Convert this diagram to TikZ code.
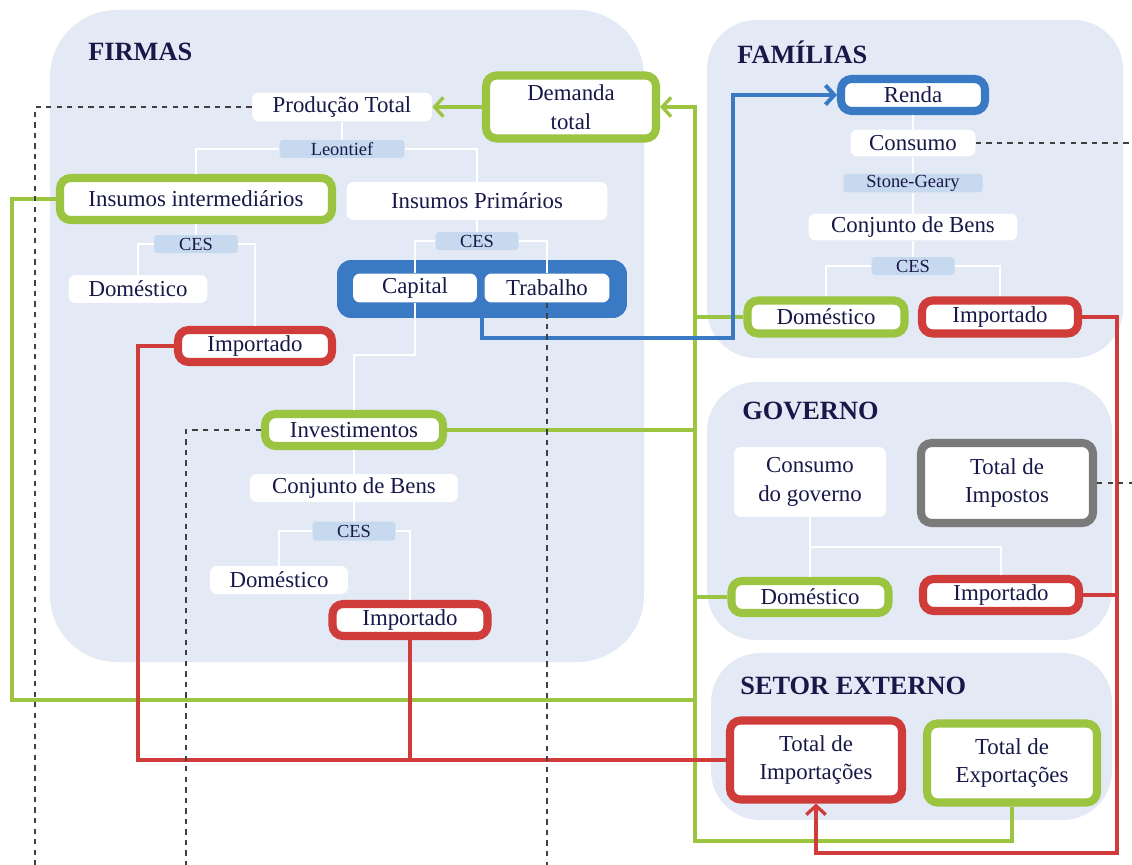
\documentclass[tikz,border=0pt]{standalone}
\usepackage{fontspec}
\setmainfont{Liberation Serif}
\usepackage{tikz}
\usetikzlibrary{arrows.meta}
\definecolor{verde}{RGB}{155,196,64}
\definecolor{vermelho}{RGB}{207,60,58}
\definecolor{azul}{RGB}{58,122,196}
\definecolor{cinza}{RGB}{122,122,122}
\definecolor{painel}{RGB}{227,234,245}
\definecolor{rotulo}{RGB}{198,217,238}
\definecolor{texto}{RGB}{24,24,72}

\begin{document}
\begin{tikzpicture}[x=0.02cm, y=-0.02cm,
  painelbox/.style={fill=painel, rounded corners=#1},
  titulo/.style={font=\fontsize{15}{17}\selectfont\bfseries, text=texto,
                 anchor=west, inner sep=0pt},
  caixa/.style={fill=white, rounded corners=4pt, inner sep=1pt, text=texto,
                align=center, font=\fontsize{13}{16.5}\selectfont},
  quadro/.style={caixa, draw=#1, line width=4.6pt, rounded corners=6pt},
  rot/.style={fill=rotulo, rounded corners=2pt, inner sep=0pt, text=texto,
              font=\fontsize{10.5}{12}\selectfont},
  arvore/.style={white, line width=1.2pt},
  fluxo/.style={#1, line width=1.9pt},
  seta/.style={-{Straight Barb[length=5pt,width=11pt]}},
  tracejado/.style={dashed, line width=0.6pt, black!75},
]
\useasboundingbox (0,0) rectangle (1132,865);

% ---- Panels ----------------------------------------------------------------
\fill[painelbox=38pt] (50,10) rectangle (644,662);
\fill[painelbox=28pt] (707,20) rectangle (1123,358);
\fill[painelbox=28pt] (707,382) rectangle (1112,640);
\fill[painelbox=28pt] (711,653) rectangle (1112,820);

\node[titulo] (tFirmas)  at (88,52)   {FIRMAS};
\node[titulo] (tFamilia) at (737,52)  {FAMÍLIAS};
\node[titulo] (tGoverno) at (742,411) {GOVERNO};
\node[titulo] (tSetor)   at (740,686) {SETOR EXTERNO};

% ---- Firmas ----------------------------------------------------------------
\node[caixa, minimum width=3.6cm, minimum height=0.58cm] (prod) at (342,107) {Produção Total};
\node[rot, minimum width=2.5cm, minimum height=0.36cm] (leon) at (342,149) {Leontief};
\node[quadro=verde, minimum width=3.4cm, minimum height=1.26cm] (dem) at (571,107) {Demanda\\total};
\node[quadro=verde, minimum width=5.44cm, minimum height=0.84cm] (insint) at (196,199) {Insumos intermediários};
\node[caixa, minimum width=5.22cm, minimum height=0.76cm] (insprim) at (477,201) {Insumos Primários};
\node[rot, minimum width=1.68cm, minimum height=0.36cm] (ces1) at (196,244) {CES};
\node[caixa, minimum width=2.78cm, minimum height=0.56cm] (dom1) at (138,289) {Doméstico};
\node[quadro=vermelho, minimum width=3.08cm, minimum height=0.64cm] (imp1) at (255,346) {Importado};
\node[rot, minimum width=1.66cm, minimum height=0.36cm] (ces2) at (477,241) {CES};

\node[fill=azul, rounded corners=8pt, minimum width=5.8cm, minimum height=1.16cm] (fator) at (482,289) {};
\node[caixa, minimum width=2.48cm, minimum height=0.58cm] (cap) at (415,288) {Capital};
\node[caixa, minimum width=2.5cm, minimum height=0.58cm] (trab) at (547,288) {Trabalho};

\node[quadro=verde, minimum width=3.56cm, minimum height=0.64cm] (inv) at (354,430) {Investimentos};
\node[caixa, minimum width=4.16cm, minimum height=0.56cm] (conj1) at (354,488) {Conjunto de Bens};
\node[rot, minimum width=1.66cm, minimum height=0.38cm] (ces3) at (354,531) {CES};
\node[caixa, minimum width=2.76cm, minimum height=0.56cm] (dom2) at (279,580) {Doméstico};
\node[quadro=vermelho, minimum width=3.1cm, minimum height=0.64cm] (imp2) at (410,620) {Importado};

% ---- Familias --------------------------------------------------------------
\node[quadro=azul, minimum width=2.88cm, minimum height=0.64cm] (renda) at (913,95) {Renda};
\node[caixa, minimum width=2.5cm, minimum height=0.54cm] (cons) at (913,143) {Consumo};
\node[rot, minimum width=2.78cm, minimum height=0.38cm] (stone) at (913,183) {Stone-Geary};
\node[caixa, minimum width=4.18cm, minimum height=0.54cm] (conj2) at (913,227) {Conjunto de Bens};
\node[rot, minimum width=1.66cm, minimum height=0.36cm] (ces4) at (913,266) {CES};
\node[quadro=verde, minimum width=3.14cm, minimum height=0.66cm] (dom3) at (826,317) {Doméstico};
\node[quadro=vermelho, minimum width=3.12cm, minimum height=0.66cm] (imp3) at (1000,317) {Importado};

% ---- Governo ---------------------------------------------------------------
\node[caixa, minimum width=3.04cm, minimum height=1.4cm] (consg) at (810,482) {Consumo\\do governo};
\node[quadro=cinza, minimum width=3.44cm, minimum height=1.6cm] (impost) at (1007,483) {Total de\\Impostos};
\node[quadro=verde, minimum width=3.14cm, minimum height=0.64cm] (dom4) at (810,597) {Doméstico};
\node[quadro=vermelho, minimum width=3.12cm, minimum height=0.64cm] (imp4) at (1001,595) {Importado};

% ---- Setor externo ---------------------------------------------------------
\node[quadro=vermelho, minimum width=3.44cm, minimum height=1.58cm] (imptot) at (816,760) {Total de\\Importações};
\node[quadro=verde, minimum width=3.4cm, minimum height=1.58cm] (exptot) at (1012,763) {Total de\\Exportações};

% ---- Tree lines ------------------------------------------------------------
\draw[arvore] (prod) -- (leon);
\draw[arvore] (leon.west) -| (insint.north);
\draw[arvore] (leon.east) -| (insprim.north);
\draw[arvore] (insint.south) -- (ces1.north);
\draw[arvore] (ces1.west) -| (dom1.north);
\draw[arvore] (ces1.east) -| (imp1.north);
\draw[arvore] (insprim.south) -- (ces2.north);
\draw[arvore] (ces2.west) -| (cap.north);
\draw[arvore] (ces2.east) -| (trab.north);
\coordinate (cInv) at (415,355);
\draw[arvore] (cap.south) -- (cInv) -| (inv.north);
\draw[arvore] (inv.south) -- (conj1.north);
\draw[arvore] (conj1.south) -- (ces3.north);
\draw[arvore] (ces3.west) -| (dom2.north);
\draw[arvore] (ces3.east) -| (imp2.north);

\draw[arvore] (renda.south) -- (cons.north);
\draw[arvore] (cons.south) -- (stone.north);
\draw[arvore] (stone.south) -- (conj2.north);
\draw[arvore] (conj2.south) -- (ces4.north);
\draw[arvore] (ces4.west) -| (dom3.north);
\draw[arvore] (ces4.east) -| (imp3.north);

\coordinate (gov) at (810,547);
\draw[arvore] (consg.south) -- (dom4.north);
\draw[arvore] (gov) -| (imp4.north);

% ---- Demand flows (green) --------------------------------------------------
\coordinate (gTop) at (695,107);
\coordinate (gBot) at (695,841);
\coordinate (gEsq) at (12,700);
\draw[fluxo=verde, seta] (dem.west) -- (prod.east);
\draw[fluxo=verde, seta] (exptot.south) |- (gBot) -- (gTop) -- (dem.east);
\draw[fluxo=verde] (dom3.west) -- (dom3.west -| gTop);
\draw[fluxo=verde] (dom4.west) -- (dom4.west -| gTop);
\draw[fluxo=verde] (inv.east) -- (inv.east -| gTop);
\draw[fluxo=verde] (insint.west) -| (gEsq) -- (gEsq -| gTop);

% ---- Import flows (red) ----------------------------------------------------
\coordinate (rEsq) at (138,760);
\coordinate (rDir) at (1117,853);
\draw[fluxo=vermelho] (imp1.west) -| (rEsq) -- (imptot.west);
\draw[fluxo=vermelho] (imp2.south) -- (imp2.south |- rEsq);
\draw[fluxo=vermelho, seta] (imp3.east) -| (rDir) -| (imptot.south);
\draw[fluxo=vermelho] (imp4.east) -- (imp4.east -| rDir);

% ---- Income flow (blue) ----------------------------------------------------
\coordinate (aBaixo) at (733,338);
\draw[fluxo=azul, line width=2.3pt, seta] (fator.south) |- (aBaixo) |- (renda.west);

% ---- Dashed links ----------------------------------------------------------
\coordinate (tProd) at (35,865);
\coordinate (tInv) at (186,865);
\coordinate (tCons) at (1132,143);
\draw[tracejado] (prod.west) -| (tProd);
\draw[tracejado] (inv.west) -| (tInv);
\draw[tracejado] (trab.south) -- (trab.south |- tInv);
\draw[tracejado] (cons.east) -- (tCons);
\draw[tracejado] (impost.east) -- (impost.east -| tCons);

\end{tikzpicture}
\end{document}
